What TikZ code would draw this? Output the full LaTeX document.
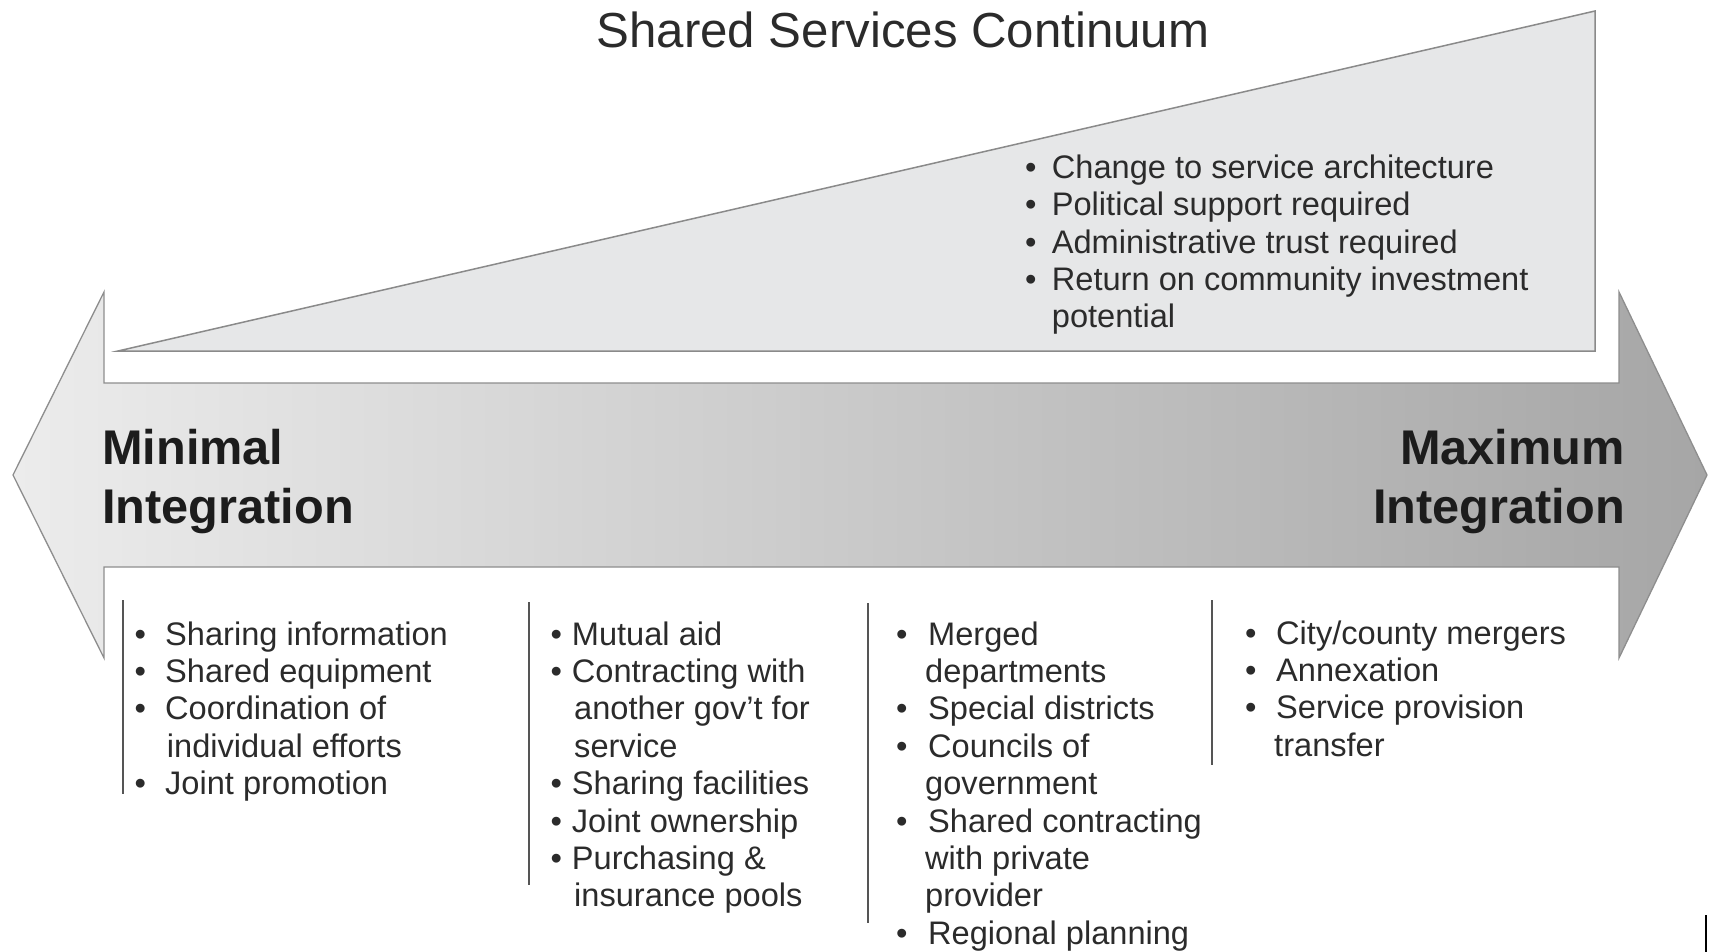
\documentclass[tikz,border=0pt]{standalone}
\usepackage{fontspec}
\setmainfont{Liberation Sans}
\definecolor{txt}{HTML}{2B2B2B}
\definecolor{boldtxt}{HTML}{1C1C1C}
\definecolor{arrowline}{HTML}{8E8E8E}
\definecolor{arrowleft}{HTML}{ECECEC}
\definecolor{arrowright}{HTML}{A6A6A6}
\definecolor{wedgefill}{HTML}{E6E7E8}
\definecolor{wedgeline}{HTML}{8A8A8A}
\definecolor{divider}{HTML}{555555}
\newcommand\B{\makebox[\bw][l]{\textbullet}}
\newcommand\C{\hspace*{\cw}}
\tikzset{
  body/.style={anchor=base west, inner sep=0pt, text=txt, font=\fontsize{32.6}{37.4}\selectfont},
  biglabel/.style={inner sep=0pt, text=boldtxt, font=\bfseries\fontsize{48.7}{57}\selectfont},
  titlestyle/.style={anchor=base, inner sep=0pt, text=txt, font=\fontsize{49.2}{58}\selectfont},
  divline/.style={draw=divider, line width=2pt},
}
\begin{document}
\begin{tikzpicture}[x=1pt, y=-1pt]
\useasboundingbox (0,0) rectangle (1709,952);
% wedge
\filldraw[fill=wedgefill, draw=wedgeline, line width=1.5pt, line join=miter]
  (118,351) -- (1595,11) -- (1595,351) -- cycle;
% double arrow
\shadedraw[left color=arrowleft, right color=arrowright, draw=arrowline, line width=1.3pt]
  (13,475) -- (104,292) -- (104,383) -- (1619,383) -- (1619,292) -- (1707,475)
  -- (1619,658) -- (1619,567) -- (104,567) -- (104,658) -- cycle;
% title
\node[titlestyle] (title) at (903,48) {Shared Services Continuum};
% arrow labels
\node[biglabel, anchor=base west] (min1) at (102,464) {Minimal};
\node[biglabel, anchor=base west] (min2) at (102,523) {Integration};
\node[biglabel, anchor=base east] (max1) at (1625,464) {Maximum};
\node[biglabel, anchor=base east] (max2) at (1625,523) {Integration};
% wedge text
\def\bw{26.7pt}\def\cw{26.7pt}
\foreach \t [count=\i] in {{\B Change to service architecture},{\B Political support required},{\B Administrative trust required},{\B Return on community investment},{\C potential}}
  \node[body] (w\i) at ({1025},{178.5+37.3*(\i-1)}) {\t};
% dividers
\draw[divline] (123,600) -- (123,794);
\draw[divline] (529,602) -- (529,885);
\draw[divline] (868,603) -- (868,923);
\draw[divline] (1212,600) -- (1212,765);
% column 1
\def\bw{30.7pt}\def\cw{32.4pt}
\foreach \t [count=\i] in {{\B Sharing information},{\B Shared equipment},{\B Coordination of},{\C individual efforts},{\B Joint promotion}}
  \node[body] (a\i) at ({134.3},{645+37.4*(\i-1)}) {\t};
% column 2
\def\bw{21.4pt}\def\cw{23.7pt}
\foreach \t [count=\i] in {{\B Mutual aid},{\B Contracting with},{\C another gov’t for},{\C service},{\B Sharing facilities},{\B Joint ownership},{\B Purchasing \&},{\C insurance pools}}
  \node[body] (b\i) at ({550.3},{645+37.4*(\i-1)}) {\t};
% column 3
\def\bw{32pt}\def\cw{29pt}
\foreach \t [count=\i] in {{\B Merged},{\C departments},{\B Special districts},{\B Councils of},{\C government},{\B Shared contracting},{\C with private},{\C provider},{\B Regional planning}}
  \node[body] (c\i) at ({896},{645+37.4*(\i-1)}) {\t};
% column 4
\def\bw{31pt}\def\cw{29pt}
\foreach \t [count=\i] in {{\B City/county mergers},{\B Annexation},{\B Service provision},{\C transfer}}
  \node[body] (d\i) at ({1245},{644+37.4*(\i-1)}) {\t};
% edge mark
\draw[black, line width=2pt] (1706,915) -- (1706,952);
\end{tikzpicture}
\end{document}
